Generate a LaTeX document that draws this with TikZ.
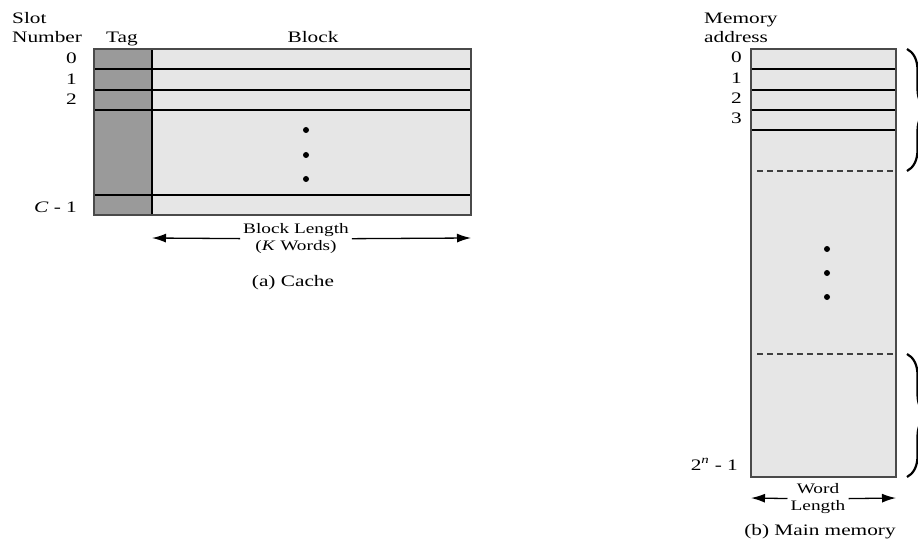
\documentclass[tikz,border=0pt]{standalone}
\usepackage{fontspec}
\setmainfont{Liberation Serif}[FakeStretch=1.33]
\usepackage{tikz}
\usetikzlibrary{positioning}
\usetikzlibrary{arrows.meta}
\usetikzlibrary{decorations.pathreplacing}

\definecolor{tagfill}{HTML}{9A9A9A}
\definecolor{blockfill}{HTML}{E6E6E6}
\definecolor{borderline}{HTML}{4A4A4A}

\tikzset{
    lbl/.style={font=\fontsize{16}{19}\selectfont, inner sep=1pt},
    dimlbl/.style={font=\fontsize{14.5}{17}\selectfont, inner sep=3pt, align=center},
    boxline/.style={draw=borderline, line width=2pt},
    rowline/.style={draw=black, line width=1.3pt},
    dashline/.style={draw=gray!50!black, line width=1.3pt, dash pattern=on 6pt off 4pt},
    dimarrow/.style={-{Latex[length=14pt, width=9pt]}, line width=1.3pt},
    bracestyle/.style={decorate, decoration={brace, amplitude=21pt}, line width=2.2pt},
}

\begin{document}
\begin{tikzpicture}[x=1pt, y=-1pt]
    \useasboundingbox (0,0) rectangle (918,540);
    \clip (0,0) rectangle (918,540);

    % cache
    \coordinate (cacheNW) at (94,49);
    \coordinate (cacheSE) at (471,215);
    \fill[tagfill] (94,49) rectangle (152,215);
    \fill[blockfill] (152,49) rectangle (cacheSE);
    \foreach \y in {69,90,110,195}
        \draw[rowline] (94,\y) -- (471,\y);
    \draw[line width=2pt] (152,49) -- (152,215);
    \draw[boxline] (cacheNW) rectangle (cacheSE);
    \foreach \y in {130,155,179}
        \fill (306,\y) circle (3pt);

    \node[lbl, align=left, anchor=south west] (slotlbl) at (11,44) {Slot\\Number};
    \node[lbl, anchor=base] (taglbl) at (122,43) {Tag};
    \node[lbl, anchor=base] (blocklbl) at (313,43) {Block};
    \node[lbl, anchor=base east] (slot0) at (78,64) {0};
    \node[lbl, anchor=base east] (slot1) at (78,85) {1};
    \node[lbl, anchor=base east] (slot2) at (78,105) {2};
    \node[lbl, anchor=base east] (slotC) at (78,212) {\textit{C} - 1};

    \coordinate (blkL) at (152,238);
    \coordinate (blkR) at (471,238);
    \node[dimlbl] (blklen) at (296,239) {Block Length\\(\textit{K} Words)};
    \draw[dimarrow] (blklen) -- (blkL);
    \draw[dimarrow] (blklen) -- (blkR);
    \node[lbl, anchor=base] (cachecap) at (293,286) {(a) Cache};

    % main memory
    \coordinate (memNW) at (751,49);
    \coordinate (memSE) at (896,477);
    \fill[blockfill] (memNW) rectangle (memSE);
    \foreach \y in {69,90,110,130}
        \draw[rowline] (751,\y) -- (896,\y);
    \foreach \y in {171,354}
        \draw[dashline] (757,\y) -- (896,\y);
    \draw[boxline] (memNW) rectangle (memSE);
    \foreach \y in {249,273,297}
        \fill (827,\y) circle (3pt);

    \node[lbl, align=left, anchor=south west] (addrlbl) at (703,44) {Memory\\address};
    \node[lbl, anchor=base east] (addr0) at (743,63) {0};
    \node[lbl, anchor=base east] (addr1) at (743,84) {1};
    \node[lbl, anchor=base east] (addr2) at (743,104) {2};
    \node[lbl, anchor=base east] (addr3) at (743,124) {3};
    \node[lbl, anchor=base east] (addrN) at (739,470) {2\textsuperscript{\textit{n}} - 1};

    \coordinate (wordL) at (751,498);
    \coordinate (wordR) at (896,498);
    \node[dimlbl] (wordlen) at (818,499) {Word\\Length};
    \draw[dimarrow] (wordlen) -- (wordL);
    \draw[dimarrow] (wordlen) -- (wordR);
    \node[lbl, anchor=base] (memcap) at (820,535) {(b) Main memory};

    % braces, cut by the right edge
    \draw[bracestyle] (907,49) -- (907,171);
    \draw[bracestyle] (907,354) -- (907,477);
\end{tikzpicture}
\end{document}
